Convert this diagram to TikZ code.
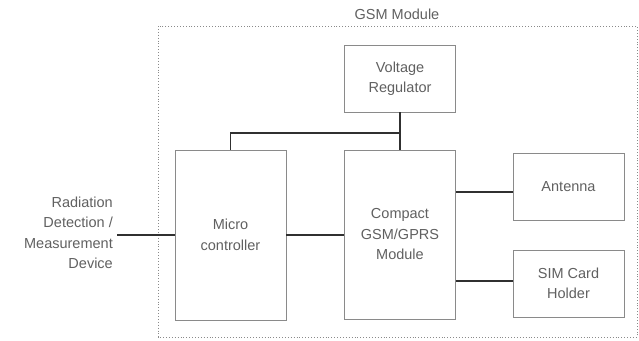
\documentclass[tikz,border=0pt]{standalone}
\usepackage{fontspec}
\setmainfont{Liberation Sans}
\definecolor{txt}{HTML}{606060}
\definecolor{boxc}{HTML}{8A8A8A}
\definecolor{wire}{HTML}{303030}
\begin{document}
\begin{tikzpicture}[x=1pt,y=-1pt,
  blk/.style={draw=boxc,line width=0.9pt,minimum width=111pt,align=center,text=txt,inner sep=0pt,font=\fontsize{14.5}{20.5}\selectfont},
  wireline/.style={draw=wire,line width=1.1pt},
  lbl/.style={text=txt,font=\fontsize{14.5}{20.5}\selectfont,inner sep=0pt}]
\useasboundingbox (0,0) rectangle (639,340);
\draw[boxc,dotted,line width=0.9pt] (158,26) rectangle (637,337);
\node[lbl] (title) at (397,14) {GSM Module};
\node[blk,minimum height=67pt] (vr) at (400,78.5) {Voltage\\Regulator};
\node[blk,minimum height=170pt] (mc) at (230.5,235) {Micro\\controller};
\node[blk,minimum height=169pt] (gsm) at (400,234.5) {Compact\\GSM/GPRS\\Module};
\node[blk,minimum height=67pt] (ant) at (568.5,186.5) {Antenna};
\node[blk,minimum height=67pt] (sim) at (568.5,283.5) {SIM Card\\Holder};
\node[lbl,align=right,anchor=east] (src) at (113,233) {Radiation\\Detection /\\Measurement\\Device};
\coordinate (j) at (400,133);
\draw[wireline] (vr.south) -- (gsm.north);
\draw[wireline] (j) -| (mc.north);
\draw[wireline] (src.east |- mc.west) ++(4,0) -- (mc.west);
\draw[wireline] (mc.east) -- (mc.east -| gsm.west);
\draw[wireline] ([yshift=-5.5pt]ant.west) -- ([yshift=-5.5pt]ant.west -| gsm.east);
\draw[wireline] ([yshift=2.5pt]sim.west) -- ([yshift=2.5pt]sim.west -| gsm.east);
\end{tikzpicture}
\end{document}
